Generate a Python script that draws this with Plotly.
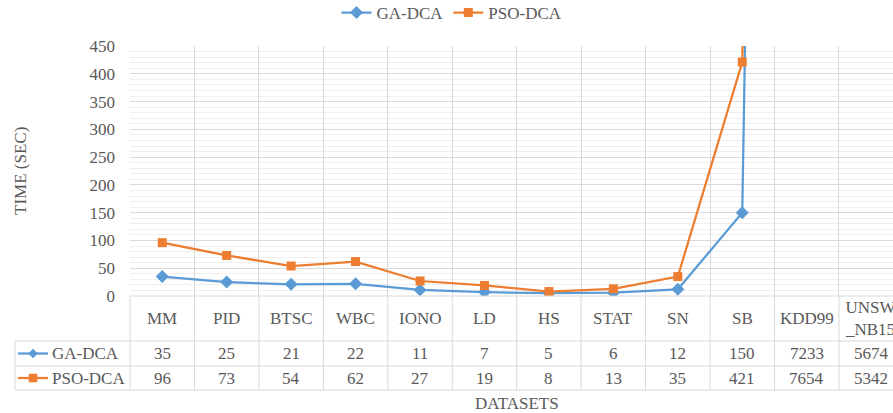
import plotly.graph_objects as go

categories = ["MM", "PID", "BTSC", "WBC", "IONO", "LD", "HS", "STAT", "SN", "SB", "KDD99", "UNSW_NB15"]
category_labels = ["MM", "PID", "BTSC", "WBC", "IONO", "LD", "HS", "STAT", "SN", "SB", "KDD99", "UNSW<br>_NB15"]
ga_dca = [35, 25, 21, 22, 11, 7, 5, 6, 12, 150, 7233, 5674]
pso_dca = [96, 73, 54, 62, 27, 19, 8, 13, 35, 421, 7654, 5342]
series_names = ["GA-DCA", "PSO-DCA"]
y_ticks = [0, 50, 100, 150, 200, 250, 300, 350, 400, 450]

BLUE = "#5B9BD5"
ORANGE = "#ED7D31"
TXT = "#595959"
GRID = "#d9d9d9"
MINOR = "#efefef"
FONT = "Liberation Serif"
FS = 17

# layout constants (pixels)
W, H = 893, 413
PL, PR, PT, PB = 130, 893, 46, 296
COLW = 64.45
XR = [-0.5, -0.5 + (PR - PL) / COLW]
ROW_CAT_B, ROW1_B, ROW2_B = 341, 366, 390
TABLE_L = 15


def px(x):
    return (x - PL) / (PR - PL)


def py(y):
    return (PB - y) / (PB - PT)


def idx_paper(v):
    return (v - XR[0]) / (XR[1] - XR[0])


fig = go.Figure()
fig.add_trace(go.Scatter(x=categories, y=ga_dca, name=series_names[0], mode="lines+markers",
                         line=dict(color=BLUE, width=2.25),
                         marker=dict(symbol="diamond", size=10, color=BLUE)))
fig.add_trace(go.Scatter(x=categories, y=pso_dca, name=series_names[1], mode="lines+markers",
                         line=dict(color=ORANGE, width=2.25),
                         marker=dict(symbol="square", size=9, color=ORANGE)))

shapes = []
ann = []
line_style = dict(color=GRID, width=1)

# vertical table lines at category boundaries
for i in range(len(categories) + 1):
    xb = idx_paper(i - 0.5)
    shapes.append(dict(type="line", xref="paper", yref="paper", x0=xb, x1=xb,
                       y0=py(PB), y1=py(ROW2_B), line=line_style, layer="below"))
# left border of series-name column
shapes.append(dict(type="line", xref="paper", yref="paper", x0=px(TABLE_L), x1=px(TABLE_L),
                   y0=py(ROW_CAT_B), y1=py(ROW2_B), line=line_style))
# horizontal lines
for yy, x0 in [(PB, PL), (ROW_CAT_B, TABLE_L), (ROW1_B, TABLE_L), (ROW2_B, TABLE_L)]:
    shapes.append(dict(type="line", xref="paper", yref="paper", x0=px(x0), x1=1.05,
                       y0=py(yy), y1=py(yy), line=line_style))

# category labels
for c, lab in zip(categories, category_labels):
    ann.append(dict(x=c, xref="x", y=py((PB + ROW_CAT_B) / 2), yref="paper", text=lab,
                    showarrow=False, xanchor="center", yanchor="middle",
                    font=dict(family=FONT, size=FS, color=TXT)))
# values
row_centers = [(ROW_CAT_B + ROW1_B) / 2, (ROW1_B + ROW2_B) / 2]
for vals, yc in zip([ga_dca, pso_dca], row_centers):
    for c, v in zip(categories, vals):
        ann.append(dict(x=c, xref="x", y=py(yc), yref="paper", text=str(v),
                        showarrow=False, xanchor="center", yanchor="middle",
                        font=dict(family=FONT, size=FS, color=TXT)))
# series name keys
for name, color, yc, kind in zip(series_names, [BLUE, ORANGE], row_centers, ["diamond", "square"]):
    shapes.append(dict(type="line", xref="paper", yref="paper", x0=px(18), x1=px(48),
                       y0=py(yc), y1=py(yc), line=dict(color=color, width=2.25)))
    cx = 33
    if kind == "diamond":
        r = 4.5
        path = (f"M {px(cx - r)} {py(yc)} L {px(cx)} {py(yc - r)} L {px(cx + r)} {py(yc)} "
                f"L {px(cx)} {py(yc + r)} Z")
        shapes.append(dict(type="path", xref="paper", yref="paper", path=path,
                           fillcolor=color, line=dict(color=color, width=0.5)))
    else:
        r = 4
        shapes.append(dict(type="rect", xref="paper", yref="paper", x0=px(cx - r), x1=px(cx + r),
                           y0=py(yc + r), y1=py(yc - r), fillcolor=color,
                           line=dict(color=color, width=0.5)))
    ann.append(dict(x=px(50), xref="paper", y=py(yc), yref="paper", text=name,
                    showarrow=False, xanchor="left", yanchor="middle",
                    font=dict(family=FONT, size=FS, color=TXT)))

# axis titles
ann.append(dict(x=px(517), xref="paper", y=py(403), yref="paper", text="DATASETS",
                showarrow=False, xanchor="center", yanchor="middle",
                font=dict(family=FONT, size=FS, color=TXT)))
ann.append(dict(x=px(20), xref="paper", y=py(171), yref="paper", text="TIME (SEC)",
                textangle=-90, showarrow=False, xanchor="center", yanchor="middle",
                font=dict(family=FONT, size=FS, color=TXT)))

fig.update_layout(
    width=W, height=H,
    margin=dict(l=PL, r=W - PR, t=PT, b=H - PB, pad=0, autoexpand=False),
    paper_bgcolor="white", plot_bgcolor="white",
    font=dict(family=FONT, size=FS, color=TXT),
    showlegend=True,
    legend=dict(orientation="h", x=px(452), xanchor="center", y=py(13), yanchor="middle",
                font=dict(family=FONT, size=FS, color=TXT), itemwidth=30,
                bgcolor="rgba(0,0,0,0)"),
    xaxis=dict(type="category", categoryorder="array", categoryarray=categories,
               range=XR, tickson="boundaries", showgrid=True, gridcolor=GRID, gridwidth=1,
               showticklabels=False, ticks="", zeroline=False, showline=False),
    yaxis=dict(range=[0, 450], tickvals=y_ticks, showgrid=True, gridcolor=GRID, gridwidth=1,
               ticks="", ticklabelstandoff=14, zeroline=False, showline=False,
               tickfont=dict(family=FONT, size=FS, color=TXT),
               minor=dict(tick0=0, dtick=10, showgrid=True, gridcolor=MINOR, gridwidth=1)),
    shapes=shapes,
    annotations=ann,
    hovermode=False,
)

fig.write_html("out.html", config={"displayModeBar": False},
               post_script="document.body.style.margin='0px';document.body.style.overflow='hidden';")
